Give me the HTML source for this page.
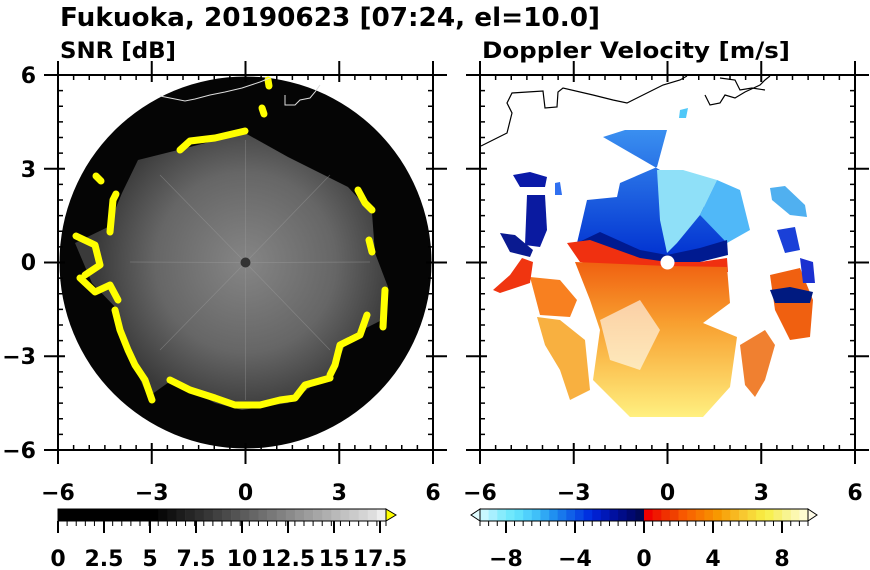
<!DOCTYPE html>
<html><head><meta charset="utf-8"><style>
html,body{margin:0;padding:0;background:#fff;}
svg{display:block;}
text{font-family:"DejaVu Sans","Liberation Sans",sans-serif;font-weight:bold;fill:#000;}
</style></head><body>
<svg width="870" height="570" viewBox="0 0 870 570" xmlns="http://www.w3.org/2000/svg">
<defs>
<radialGradient id="gr" cx="245.5" cy="262.5" r="150" gradientUnits="userSpaceOnUse">
<stop offset="0" stop-color="#858585"/><stop offset="0.6" stop-color="#666"/><stop offset="1" stop-color="#3a3a3a"/>
</radialGradient>
<linearGradient id="bl" x1="0" y1="0" x2="0" y2="1">
<stop offset="0" stop-color="#3a8ff0"/><stop offset="1" stop-color="#0030d0"/>
</linearGradient>
<linearGradient id="wm" x1="0" y1="0" x2="0" y2="1">
<stop offset="0" stop-color="#f06010"/><stop offset="0.4" stop-color="#f8a030"/><stop offset="1" stop-color="#fff080"/>
</linearGradient>
<clipPath id="cl"><rect x="58" y="75" width="375" height="375"/></clipPath>
<clipPath id="cr"><rect x="480" y="75" width="375" height="375"/></clipPath>
</defs>

<text x="60" y="26" font-size="26" textLength="540" lengthAdjust="spacingAndGlyphs">Fukuoka, 20190623 [07:24, el=10.0]</text>
<text x="60" y="58" font-size="22" textLength="116" lengthAdjust="spacingAndGlyphs">SNR [dB]</text>
<text x="482" y="58" font-size="22" textLength="308" lengthAdjust="spacingAndGlyphs">Doppler Velocity [m/s]</text>

<!-- LEFT PANEL -->
<g clip-path="url(#cl)">
<circle cx="245.5" cy="262.5" r="186" fill="#050505"/>
<polygon fill="url(#gr)" points="178,150 245,133 288,157 348,187 372,213 375,253 388,287 382,320 348,337 335,370 288,403 242,410 215,403 172,380 148,397 128,353 118,310 92,283 75,243 108,227 122,193 138,160"/>
<g stroke="#a0a0a0" stroke-width="0.7" opacity="0.45">
<line x1="245.5" y1="262.5" x2="245.5" y2="140"/><line x1="245.5" y1="262.5" x2="245.5" y2="400"/>
<line x1="245.5" y1="262.5" x2="130" y2="262"/><line x1="245.5" y1="262.5" x2="370" y2="262"/>
<line x1="245.5" y1="262.5" x2="160" y2="175"/><line x1="245.5" y1="262.5" x2="330" y2="175"/>
<line x1="245.5" y1="262.5" x2="160" y2="350"/><line x1="245.5" y1="262.5" x2="330" y2="350"/>
</g>
<circle cx="245.5" cy="262.5" r="5" fill="#333"/>
<g fill="none" stroke="#ffff00" stroke-width="7" stroke-linejoin="round" stroke-linecap="round">
<polyline points="180,150 190,141 215,138 245,131"/>
<polyline points="262,108 264,114"/>
<polyline points="358,190 365,203 372,210"/>
<polyline points="369,240 372,252"/>
<polyline points="385,290 383,327"/>
<polyline points="367,315 360,335 340,345 335,365 330,375"/>
<polyline points="330,378 305,385 295,398 280,400 260,405 235,405 215,398 190,390 170,380"/>
<polyline points="152,400 145,380 135,365 128,350 120,330 115,310"/>
<polyline points="118,300 110,285 95,292 80,278"/>
<polyline points="76,236 95,245 100,265 85,275"/>
<polyline points="110,232 113,200 116,194"/>
<polyline points="96,176 101,181"/>
<polyline points="268,80 269,86"/>
</g>
<polyline fill="none" stroke="#ddd" stroke-width="1" points="160,96 185,101 195,99 210,95 225,92 242,88 260,82 270,78"/>
<polyline fill="none" stroke="#ddd" stroke-width="1" points="285,95 285,105 295,105 300,100 310,98 315,92 320,85"/>
</g>

<!-- RIGHT PANEL -->
<g clip-path="url(#cr)">
<polyline fill="none" stroke="#000" stroke-width="1.2" points="481,146 507,133 512,113 507,103 512,93 543,91 545,108 557,107 558,92 563,88 593,95 613,100 627,103 647,93 663,85 680,80 687,76"/>
<polyline fill="none" stroke="#000" stroke-width="1.2" points="705,95 710,105 720,103 725,95 735,98 745,92 760,85 765,80 770,76"/>
<polyline fill="none" stroke="#000" stroke-width="1.2" points="720,78 735,80 740,90 752,88 765,90"/>
<polygon fill="url(#bl)" points="603,137 625,130 667,130 657,167 620,183 617,197 587,200 577,243 657,260 703,250 727,243 710,217 683,170 660,170"/>
<polygon fill="#8fe0f8" points="657,170 683,170 717,180 700,215 677,243 667,253 660,220"/>
<polygon fill="#50b8f8" points="717,180 740,190 750,230 727,243 700,215"/>
<polygon fill="#001a90" points="577,243 600,232 640,250 667,255 700,248 727,240 728,255 700,262 640,262 590,258"/>
<polygon fill="#f03010" points="567,243 590,240 640,258 667,262 700,262 727,258 728,272 640,272 580,262"/>
<polygon fill="url(#wm)" points="575,262 667,266 727,267 730,303 703,323 737,337 730,387 703,417 630,417 593,380 600,330 590,300"/>
<polygon fill="#fff" points="600,320 640,300 660,330 640,370 610,360" opacity="0.6"/>
<polygon fill="#f88020" points="530,277 560,280 577,300 570,317 540,315"/>
<polygon fill="#f03510" points="493,290 510,275 522,258 533,262 530,283 500,293"/>
<polygon fill="#f8b040" points="537,317 560,320 585,340 590,390 570,400 560,370 545,345"/>
<polygon fill="#f06010" points="770,275 800,268 813,300 810,337 790,340 775,310"/>
<polygon fill="#f08030" points="740,345 765,330 775,345 765,380 755,397 745,385"/>
<polygon fill="#0a1aa8" points="513,175 530,172 547,177 545,187 520,187"/>
<polygon fill="#0a1aa0" points="527,195 545,195 547,230 540,247 525,245"/>
<polygon fill="#0a1a90" points="500,233 515,235 533,250 530,257 510,252"/>
<polygon fill="#1a40d8" points="777,230 795,227 800,250 785,253"/>
<polygon fill="#1a30d0" points="800,258 813,262 815,283 803,283"/>
<polygon fill="#001a80" points="770,290 790,287 813,292 810,303 775,303"/>
<polygon fill="#50b0f0" points="770,188 785,186 805,205 807,217 790,215 772,200"/>
<polygon fill="#50c8f8" points="680,110 688,108 686,118 679,118"/>
<polygon fill="#3070f0" points="555,183 560,182 562,195 555,195"/>
<circle cx="667.5" cy="262.5" r="7" fill="#fff"/>
</g>

<!-- frames & ticks -->
<g fill="none" stroke="#000" stroke-width="2">
<rect x="58" y="75" width="375" height="375"/>
<rect x="480" y="75" width="375" height="375"/>
</g>
<g stroke="#000" stroke-width="5" stroke-dasharray="1.5 14.125" fill="none">
<line x1="57.25" y1="77.5" x2="434" y2="77.5"/>
<line x1="57.25" y1="447.5" x2="434" y2="447.5"/>
<line x1="60.5" y1="74.25" x2="60.5" y2="451"/>
<line x1="430.5" y1="74.25" x2="430.5" y2="451"/>
<line x1="479.25" y1="77.5" x2="856" y2="77.5"/>
<line x1="479.25" y1="447.5" x2="856" y2="447.5"/>
<line x1="482.5" y1="74.25" x2="482.5" y2="451"/>
<line x1="852.5" y1="74.25" x2="852.5" y2="451"/>
</g>
<g stroke="#000" stroke-width="2">
<path d="M58,61V82M151.75,61V82M245.5,61V82M339.25,61V82M433,61V82M58,443V464M151.75,443V464M245.5,443V464M339.25,443V464M433,443V464
M44,75H65M44,168.75H65M44,262.5H65M44,356.25H65M44,450H65M426,75H447M426,168.75H447M426,262.5H447M426,356.25H447M426,450H447
M480,61V82M573.75,61V82M667.5,61V82M761.25,61V82M855,61V82M480,443V464M573.75,443V464M667.5,443V464M761.25,443V464M855,443V464
M466,75H487M466,168.75H487M466,262.5H487M466,356.25H487M466,450H487M848,75H869M848,168.75H869M848,262.5H869M848,356.25H869M848,450H869"/>
</g>
<g font-size="22" text-anchor="end">
<text x="36" y="83">6</text><text x="36" y="177">3</text><text x="36" y="270">0</text><text x="36" y="364">−3</text><text x="36" y="458">−6</text>
</g>
<g font-size="22" text-anchor="middle">
<text x="58" y="500">−6</text><text x="151.75" y="500">−3</text><text x="245.5" y="500">0</text><text x="339.25" y="500">3</text><text x="433" y="500">6</text>
<text x="480" y="500">−6</text><text x="573.75" y="500">−3</text><text x="667.5" y="500">0</text><text x="761.25" y="500">3</text><text x="855" y="500">6</text>
</g>

<!-- left colorbar -->
<g>
<rect x="58" y="509" width="91.5" height="12" fill="#000"/>
<rect x="149.1" y="509" width="9.4" height="12" fill="rgb(0,0,0)"/>
<rect x="158.2" y="509" width="9.4" height="12" fill="rgb(9,9,9)"/>
<rect x="167.3" y="509" width="9.4" height="12" fill="rgb(18,18,18)"/>
<rect x="176.4" y="509" width="9.4" height="12" fill="rgb(28,28,28)"/>
<rect x="185.6" y="509" width="9.4" height="12" fill="rgb(37,37,37)"/>
<rect x="194.7" y="509" width="9.4" height="12" fill="rgb(46,46,46)"/>
<rect x="203.8" y="509" width="9.4" height="12" fill="rgb(55,55,55)"/>
<rect x="212.9" y="509" width="9.4" height="12" fill="rgb(65,65,65)"/>
<rect x="222" y="509" width="9.4" height="12" fill="rgb(74,74,74)"/>
<rect x="231.1" y="509" width="9.4" height="12" fill="rgb(83,83,83)"/>
<rect x="240.2" y="509" width="9.4" height="12" fill="rgb(92,92,92)"/>
<rect x="249.3" y="509" width="9.4" height="12" fill="rgb(102,102,102)"/>
<rect x="258.4" y="509" width="9.4" height="12" fill="rgb(111,111,111)"/>
<rect x="267.6" y="509" width="9.4" height="12" fill="rgb(120,120,120)"/>
<rect x="276.7" y="509" width="9.4" height="12" fill="rgb(129,129,129)"/>
<rect x="285.8" y="509" width="9.4" height="12" fill="rgb(138,138,138)"/>
<rect x="294.9" y="509" width="9.4" height="12" fill="rgb(148,148,148)"/>
<rect x="304" y="509" width="9.4" height="12" fill="rgb(157,157,157)"/>
<rect x="313.1" y="509" width="9.4" height="12" fill="rgb(166,166,166)"/>
<rect x="322.2" y="509" width="9.4" height="12" fill="rgb(175,175,175)"/>
<rect x="331.3" y="509" width="9.4" height="12" fill="rgb(185,185,185)"/>
<rect x="340.4" y="509" width="9.4" height="12" fill="rgb(194,194,194)"/>
<rect x="349.6" y="509" width="9.4" height="12" fill="rgb(203,203,203)"/>
<rect x="358.7" y="509" width="9.4" height="12" fill="rgb(212,212,212)"/>
<rect x="367.8" y="509" width="9.4" height="12" fill="rgb(222,222,222)"/>
<rect x="376.9" y="509" width="9.1" height="12" fill="rgb(238,238,238)"/>
<rect x="58" y="509" width="328" height="12" fill="none" stroke="#000" stroke-width="1"/>
<polygon points="386,509 396,515 386,521" fill="#ffff00" stroke="#000" stroke-width="1"/>
<line x1="57.5" y1="523.5" x2="387" y2="523.5" stroke="#000" stroke-width="5" stroke-dasharray="1 8.111"/>
<path d="M58,521V533M104,521V533M150,521V533M196,521V533M242,521V533M288,521V533M334,521V533M380,521V533" stroke="#000" stroke-width="2"/>
</g>
<g font-size="22" text-anchor="middle">
<text x="58" y="566">0</text><text x="104" y="566">2.5</text><text x="150" y="566">5</text><text x="196" y="566">7.5</text><text x="242" y="566">10</text><text x="288" y="566">12.5</text><text x="334" y="566">15</text><text x="380" y="566">17.5</text>
</g>

<!-- right colorbar -->
<g>
<rect x="480" y="509" width="9" height="12" fill="#c8f8ff"/>
<rect x="488.6" y="509" width="9" height="12" fill="#a8f0ff"/>
<rect x="497.3" y="509" width="9" height="12" fill="#88ecfc"/>
<rect x="505.9" y="509" width="9" height="12" fill="#70e8fc"/>
<rect x="514.5" y="509" width="9" height="12" fill="#60e0fc"/>
<rect x="523.2" y="509" width="9" height="12" fill="#50d0fc"/>
<rect x="531.8" y="509" width="9" height="12" fill="#40c0f8"/>
<rect x="540.4" y="509" width="9" height="12" fill="#30a8f4"/>
<rect x="549.1" y="509" width="9" height="12" fill="#2090f0"/>
<rect x="557.7" y="509" width="9" height="12" fill="#1878ec"/>
<rect x="566.3" y="509" width="9" height="12" fill="#1060e8"/>
<rect x="575" y="509" width="9" height="12" fill="#0848e4"/>
<rect x="583.6" y="509" width="9" height="12" fill="#0030e0"/>
<rect x="592.2" y="509" width="9" height="12" fill="#0020d0"/>
<rect x="600.8" y="509" width="9" height="12" fill="#0018b8"/>
<rect x="609.5" y="509" width="9" height="12" fill="#0010a0"/>
<rect x="618.1" y="509" width="9" height="12" fill="#000c88"/>
<rect x="626.7" y="509" width="9" height="12" fill="#000870"/>
<rect x="635.4" y="509" width="9" height="12" fill="#000858"/>
<rect x="644" y="509" width="9" height="12" fill="#f00000"/>
<rect x="652.6" y="509" width="9" height="12" fill="#f01800"/>
<rect x="661.3" y="509" width="9" height="12" fill="#f03000"/>
<rect x="669.9" y="509" width="9" height="12" fill="#f04000"/>
<rect x="678.5" y="509" width="9" height="12" fill="#f85800"/>
<rect x="687.2" y="509" width="9" height="12" fill="#f86800"/>
<rect x="695.8" y="509" width="9" height="12" fill="#f87800"/>
<rect x="704.4" y="509" width="9" height="12" fill="#f88800"/>
<rect x="713.1" y="509" width="9" height="12" fill="#f89800"/>
<rect x="721.7" y="509" width="9" height="12" fill="#f8a810"/>
<rect x="730.3" y="509" width="9" height="12" fill="#f8b820"/>
<rect x="739" y="509" width="9" height="12" fill="#f8c830"/>
<rect x="747.6" y="509" width="9" height="12" fill="#f8d838"/>
<rect x="756.2" y="509" width="9" height="12" fill="#f8e840"/>
<rect x="764.9" y="509" width="9" height="12" fill="#f8f050"/>
<rect x="773.5" y="509" width="9" height="12" fill="#f8f070"/>
<rect x="782.1" y="509" width="9" height="12" fill="#f8f490"/>
<rect x="790.8" y="509" width="9" height="12" fill="#fcf8b0"/>
<rect x="799.4" y="509" width="8.6" height="12" fill="#fefcd0"/>
<rect x="480" y="509" width="328" height="12" fill="none" stroke="#000" stroke-width="1"/>
<polygon points="480,509 471,515 480,521" fill="#e0fcff" stroke="#000" stroke-width="1"/>
<polygon points="808,509 817,515 808,521" fill="#fffce8" stroke="#000" stroke-width="1"/>
<line x1="479.5" y1="523.5" x2="809" y2="523.5" stroke="#000" stroke-width="5" stroke-dasharray="1 7.632"/>
<path d="M506,521V533M575,521V533M644,521V533M713,521V533M782,521V533" stroke="#000" stroke-width="2"/>
</g>
<g font-size="22" text-anchor="middle">
<text x="506" y="566">−8</text><text x="575" y="566">−4</text><text x="644" y="566">0</text><text x="713" y="566">4</text><text x="782" y="566">8</text>
</g>
</svg>
</body></html>
